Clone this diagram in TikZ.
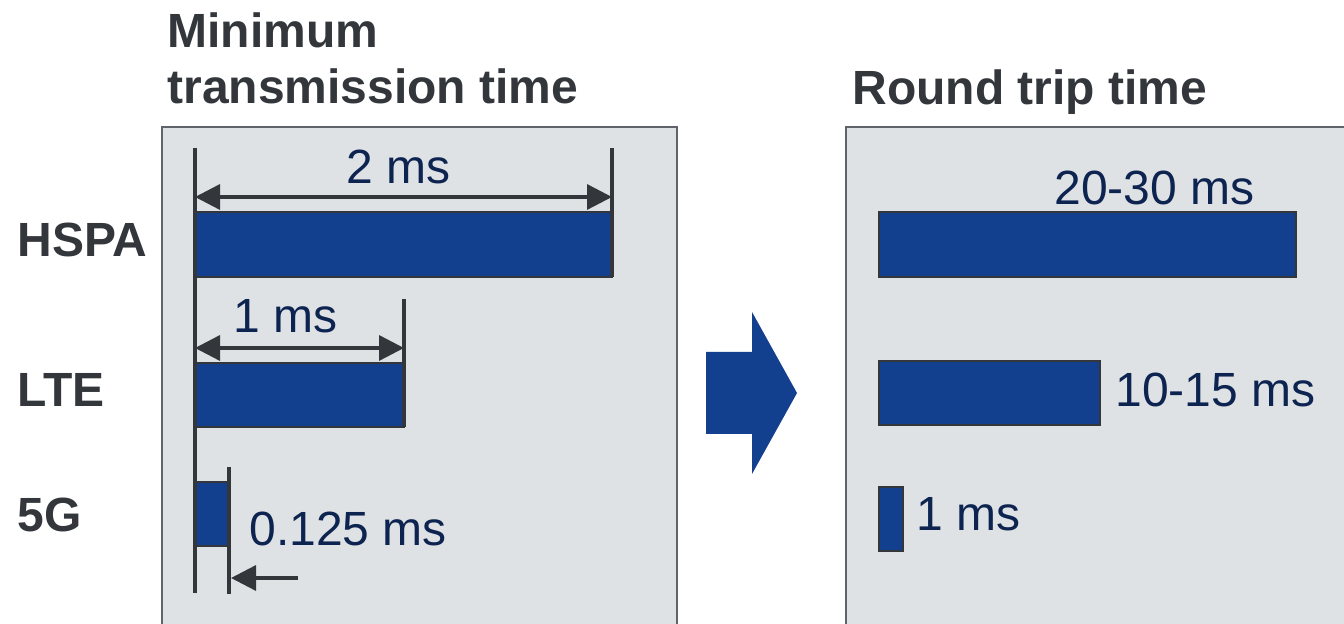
\documentclass[tikz,border=0pt]{standalone}
\usepackage{fontspec}
\setmainfont{Liberation Sans}
\usetikzlibrary{arrows.meta,positioning}
\definecolor{panelbg}{HTML}{DFE2E5}
\definecolor{panelrule}{HTML}{5F646A}
\definecolor{barblue}{HTML}{13408E}
\definecolor{tickgrey}{HTML}{33373B}
\definecolor{valnavy}{HTML}{0D2350}
\tikzset{
  panel/.style={fill=panelbg},
  rim/.style={draw=panelrule, line width=1pt},
  bar/.style={fill=barblue, draw=tickgrey, line width=0.6pt},
  tick/.style={draw=tickgrey, line width=2pt},
  dim/.style={draw=tickgrey, line width=1.7pt, >={Triangle[length=12.5pt, width=12.5pt]}},
  val/.style={font=\fontsize{24}{29}\selectfont, text=valnavy, inner sep=0pt},
  tech/.style={font=\bfseries\fontsize{24}{29}\selectfont, text=tickgrey, inner sep=0pt, anchor=base west},
  ttl/.style={tech, align=left}
}

\begin{document}
\begin{tikzpicture}[x=0.5pt, y=-0.5pt]
\clip (0,0) rectangle (1344,624);
\fill[white] (0,0) rectangle (1344,624);

% titles and row labels
\node[ttl] (ttlmin) at (167,48) {Minimum};
\node[ttl] (ttltx) at (167,104) {transmission time};
\node[ttl] (ttlrtt) at (852,105) {Round trip time};
\node[tech] (hspa) at (17,257) {HSPA};
\node[tech] (lte) at (17,407) {LTE};
\node[tech] (fiveg) at (17,532) {5G};

% the two panels
\fill[panel] (162,127) rectangle (677,660);
\draw[rim] (162,660) -- (162,127) -- (677,127) -- (677,660);
\fill[panel] (846,127) rectangle (1360,660);
\draw[rim] (846,660) -- (846,127) -- (1360,127);

% transmission time bars
\draw[bar] (195,212) rectangle (612,277);
\draw[bar] (195,363) rectangle (404,427);
\draw[bar] (195,482) rectangle (229,546);

\coordinate (t0top) at (195,148);  \coordinate (t0bot) at (195,593);
\coordinate (t1top) at (612,148);  \coordinate (t1bot) at (612,277);
\coordinate (t2top) at (404,299);  \coordinate (t2bot) at (404,427);
\coordinate (t3top) at (229,467);  \coordinate (t3bot) at (229,594);
\foreach \t in {t0,t1,t2,t3}
  \draw[tick] (\t top) -- (\t bot);

\coordinate (d1a) at (195,197);  \coordinate (d1b) at (612,197);
\coordinate (d2a) at (195,348);  \coordinate (d2b) at (404,348);
\coordinate (d3a) at (298,578);  \coordinate (d3b) at (231,578);
\draw[dim, <->] (d1a) -- (d1b);
\draw[dim, <->] (d2a) -- (d2b);
\draw[dim, ->] (d3a) -- (d3b);

\node[val, anchor=base] (v2) at (399,184) {2 ms};
\node[val, anchor=base] (v1) at (286,333) {1 ms};
\node[val, anchor=base west] (v0) at (249,546) {0.125 ms};

% big arrow between the panels
\fill[barblue] (706,352) -- (752,352) -- (752,312) -- (797,393)
  -- (752,474) -- (752,434) -- (706,434) -- cycle;

% round trip time bars
\draw[bar] (879,212) rectangle (1296,277);
\draw[bar] (879,361) rectangle (1100,425);
\draw[bar] (879,487) rectangle (903,551);

\node[val, anchor=base west] (r1) at (1054,205) {20-30 ms};
\node[val, anchor=base west] (r2) at (1115,407) {10-15 ms};
\node[val, anchor=base west] (r3) at (916,531) {1 ms};
\end{tikzpicture}
\end{document}
